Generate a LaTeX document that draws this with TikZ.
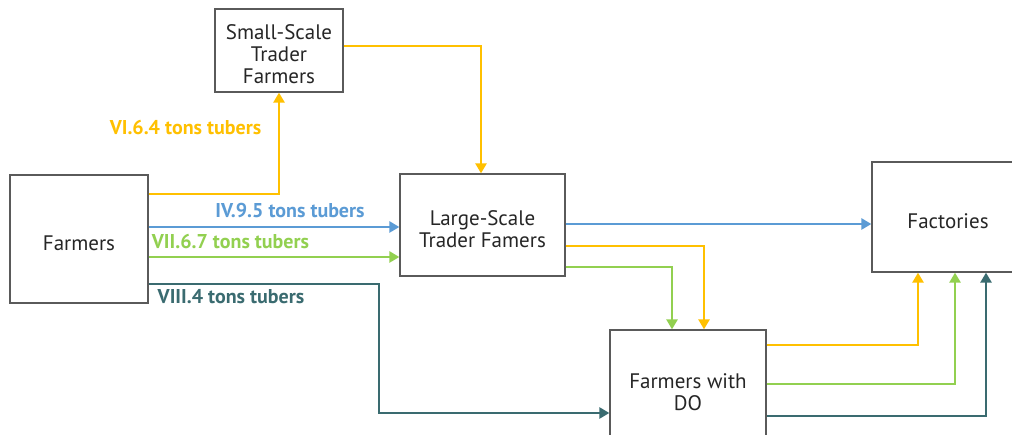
\documentclass[tikz,border=0pt]{standalone}
\usepackage{fontspec}
\setmainfont{PT Sans}
\usetikzlibrary{arrows.meta}
\definecolor{cOr}{HTML}{FFC000}
\definecolor{cBl}{HTML}{5B9BD5}
\definecolor{cGr}{HTML}{92D050}
\definecolor{cTe}{HTML}{3A6B70}
\definecolor{cBd}{HTML}{5A5A5A}
\definecolor{cTx}{HTML}{262626}
\newcommand\boxtext[1]{\raisebox{-3.5pt}[\dimexpr\height+3.5pt\relax][\dimexpr\depth-3.5pt\relax]{\begin{tabular}{@{}c@{}}#1\end{tabular}}}
\begin{document}
\begin{tikzpicture}[x=1pt,y=-1pt,
  box/.style={draw=cBd,line width=1.3pt,fill=white,align=center,text=cTx,font=\fontsize{21}{22}\selectfont,inner sep=2pt},
  conn/.style={line width=2.6pt,-{Triangle[length=10pt,width=11pt]}},
  lbl/.style={font=\fontsize{20}{21}\selectfont\bfseries,inner sep=0pt}]
\useasboundingbox (0,0) rectangle (1012,435);
\clip (0,0) rectangle (1012,435);
\fill[white] (0,0) rectangle (1012,435);
% boxes
\node[box,minimum width=128pt,minimum height=83pt] (small) at (279,50.5) {\boxtext{Small-Scale\\Trader\\Farmers}};
\node[box,minimum width=138pt,minimum height=128pt] (farm) at (79,239) {\boxtext{Farmers}};
\node[box,minimum width=165pt,minimum height=102pt] (large) at (482.5,225) {\boxtext{Large-Scale\\Trader Famers}};
\node[box,minimum width=152pt,minimum height=110pt] (fact) at (948,217) {\boxtext{Factories}};
\node[box,minimum width=156pt,minimum height=116pt] (do) at (688,388) {\boxtext{Farmers with\\DO}};
% connectors
\draw[conn,cOr] (farm.east |- 0,194) -| (small.south);
\draw[conn,cBl] (farm.east |- 0,227) -- (large.west |- 0,227);
\draw[conn,cGr] (farm.east |- 0,257) -- (large.west |- 0,257);
\draw[conn,cTe] (farm.east |- 0,284) -| (379,413) -- (do.west |- 0,413);
\draw[conn,cOr] (small.east |- 0,46) -| (large.north -| 481,0);
\draw[conn,cBl] (large.east |- 0,224) -- (fact.west |- 0,224);
\draw[conn,cOr] (large.east |- 0,246) -| (do.north -| 704,0);
\draw[conn,cGr] (large.east |- 0,267) -| (do.north -| 672,0);
\draw[conn,cOr] (do.east |- 0,345) -| (fact.south -| 918,0);
\draw[conn,cGr] (do.east |- 0,384) -| (fact.south -| 955,0);
\draw[conn,cTe] (do.east |- 0,416) -| (fact.south -| 986,0);
% labels
\node[lbl,text=cOr] (l6) at (185.5,128) {VI.6.4 tons tubers};
\node[lbl,text=cBl] (l4) at (290,211) {IV.9.5 tons tubers};
\node[lbl,text=cGr] (l7) at (230.5,242) {VII.6.7 tons tubers};
\node[lbl,text=cTe] (l8) at (231,297) {VIII.4 tons tubers};
\end{tikzpicture}
\end{document}
